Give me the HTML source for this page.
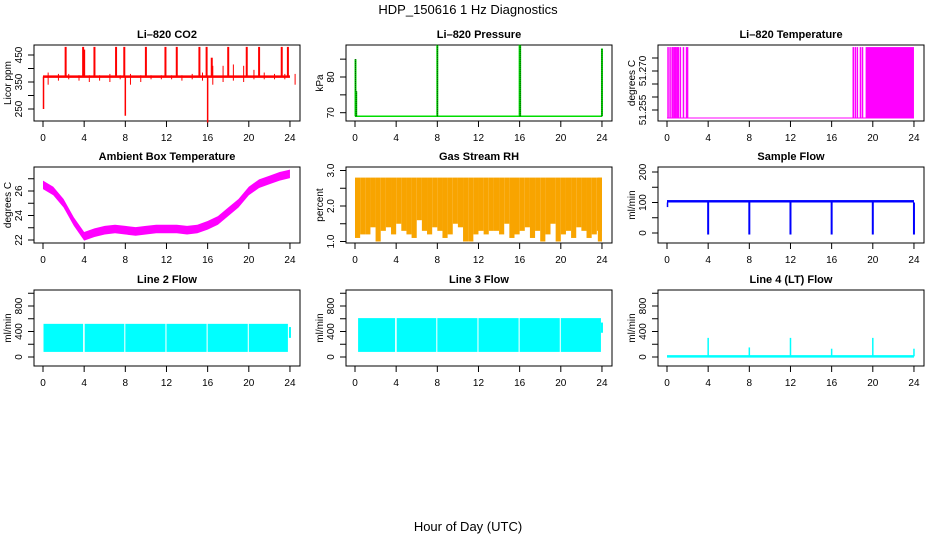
<!DOCTYPE html>
<html><head><meta charset="utf-8"><style>
body{margin:0;background:#fff}
svg text{font-family:"Liberation Sans",sans-serif;fill:#000}
.t{font-size:11px;font-weight:bold}
.k{font-size:10px}
</style></head><body>
<svg id="c" width="936" height="540" viewBox="0 0 936 540" xmlns="http://www.w3.org/2000/svg">
<text x="468" y="14" text-anchor="middle" font-size="13">HDP_150616  1 Hz Diagnostics</text>
<text x="468" y="531" text-anchor="middle" font-size="13">Hour of Day (UTC)</text>
</svg>
<script>
const xTicks=[0,4,8,12,16,20,24];
// CO2
const co2Lo=[340,355,360,355,350,355,350,360,340,350,360,360,360,355,360,355,340,350,355,350,360,360,360,360,340];
const co2Hi=[385,380,380,375,375,375,380,375,380,375,375,375,375,375,380,385,410,410,415,410,395,385,380,380,380];
const co2Base=370;
const co2SpikeH=[2.2,3.9,4.0,5.0,7.1,7.9,10.0,11.9,13.0,15.2,15.9,16.4,18.0,19.8,21.0,23.2,23.8];
const co2SpikeV=[480,480,470,480,480,480,480,480,480,480,480,440,480,480,480,480,480];
const co2DipH=[0.05,8.0,16.0];
const co2DipV=[250,225,200];
// Pressure
const presBase=69;
const presSpikeH=[0.05,0.12,8.0,16.0,16.05,24.0];
const presSpikeV=[85,76,89,89,89,88];
// Li-820 temperature
const ltLow=51.2519, ltHigh=51.2792;
const ltLineH=[0.1,0.3,0.5,0.6,0.75,0.85,1.0,1.1,1.3,1.6,1.9,2.0,18.1,18.3,18.5,18.8,19.0];
const ltFill=[19.3,24.0];
// Ambient
const ambV=[26.5,26.0,25.0,23.5,22.3,22.6,22.8,22.9,22.8,22.7,22.8,22.9,22.9,22.9,22.8,22.9,23.2,23.6,24.3,25.0,26.0,26.6,26.9,27.2,27.4];
// RH
const rhTop=2.8;
const rhBot=[1.1,1.2,1.2,1.4,1.0,1.3,1.4,1.2,1.5,1.3,1.2,1.1,1.6,1.3,1.2,1.4,1.3,1.1,1.2,1.5,1.4,1.0,1.0,1.2,1.3,1.2,1.3,1.3,1.2,1.5,1.1,1.2,1.3,1.4,1.1,1.3,1.0,1.2,1.5,1.0,1.2,1.3,1.1,1.4,1.3,1.1,1.2,1.3,1.0];
// Sample flow
const sfLo=100, sfHi=108, sfStart=85;
const sfDipH=[4,8,12,16,20,24];
const sfDipV=[-5,-5,-5,-5,-5,-5];
// Line 2/3/4
const l2Start=[0.05,4.05,8.0,12.0,16.0,20.0], l2End=[3.9,7.9,11.9,15.9,19.9,23.8];
const l2Lo=80, l2Hi=520, l2Tail=[300,470];
const l3Start=[0.3,4.05,8.0,12.0,16.0,20.0], l3End=[3.9,7.9,11.9,15.9,19.9,23.9];
const l3Lo=80, l3Hi=610, l3Tail=[380,540];
const l4Base=10;
const l4SpikeH=[4,8,12,16,20,24];
const l4SpikeV=[300,150,300,130,300,130];

const svg=document.getElementById('c');
const NS='http://www.w3.org/2000/svg';
function mk(tag,at,name,parent){const e=document.createElementNS(NS,tag);for(const k in at)e.setAttribute(k,at[k]);


(parent||svg).appendChild(e);return e;}
const colL=[34,346,658], rowT=[45,167,290], rowB=[121,243,366];
function panel(c,r,title,ylab,ticks,labels,ymap,name){
  const g=mk('g',{},name+'-panel');
  const L=colL[c],R=L+266,T=rowT[r],B=rowB[r];
  const X=h=>L+9+h*10.29;
  mk('rect',{x:L,y:T,width:R-L,height:B-T,fill:'none',stroke:'#000','stroke-width':1},name+'-frame',g);
  const t=mk('text',{x:(L+R)/2,y:T-7,'text-anchor':'middle',class:'t'},name+'-title',g);t.textContent=title;
  mk('line',{x1:X(0),x2:X(24),y1:B,y2:B,stroke:'#000'},name+'-x-axis',g);
  xTicks.forEach(h=>{mk('line',{x1:X(h),x2:X(h),y1:B,y2:B+6,stroke:'#000'},name+'-x-tick',g);
    const e=mk('text',{x:X(h),y:B+20,'text-anchor':'middle',class:'k'},name+'-x-tick-label',g);e.textContent=h;});
  ticks.forEach(v=>mk('line',{x1:L-6,x2:L,y1:ymap(v),y2:ymap(v),stroke:'#000'},name+'-y-tick',g));
  labels.forEach(v=>{const y=ymap(v);const e=mk('text',{x:L-12,y:y,'text-anchor':'middle',class:'k',transform:`rotate(-90 ${L-12} ${y})`},name+'-y-tick-label',g);e.textContent=v;});
  const yl=mk('text',{x:L-23,y:(T+B)/2,'text-anchor':'middle',class:'k',transform:`rotate(-90 ${L-23} ${(T+B)/2})`},name+'-y-axis-title',g);yl.textContent=ylab;
  const d=mk('g',{},name+'-series',g);
  return {X,d,L,R,T,B};
}
function vl(p,h,a,b,col,w,nm){mk('line',{x1:p.X(h),x2:p.X(h),y1:a,y2:b,stroke:col,'stroke-width':w||1},nm,p.d);}
function rc(p,h1,h2,a,b,col,nm){mk('rect',{x:p.X(h1),y:Math.min(a,b),width:p.X(h2)-p.X(h1),height:Math.abs(b-a),fill:col},nm,p.d);}

// CO2
{const Y=v=>55+(450-v)*0.27;const p=panel(0,0,'Li\u2013820 CO2','Licor ppm',[250,300,350,400,450],[250,350,450],Y,'co2');
 co2Lo.forEach((lo,i)=>vl(p,i+0.5,Y(lo),Y(co2Hi[i]),'#f00',1,'co2-noise'));
 mk('line',{x1:p.X(0),x2:p.X(24),y1:Y(co2Base),y2:Y(co2Base),stroke:'#f00','stroke-width':2.5},'co2-line',p.d);
 co2SpikeH.forEach((h,i)=>vl(p,h,Y(co2Base),Y(co2SpikeV[i]),'#f00',2,'co2-spike'));
 co2DipH.forEach((h,i)=>vl(p,h,Y(co2Base),Y(co2DipV[i]),'#f00',1.5,'co2-dip'));}
// Pressure
{const Y=v=>77+(80-v)*3.57;const p=panel(1,0,'Li\u2013820 Pressure','kPa',[70,75,80,85],[70,80],Y,'pressure');
 mk('line',{x1:p.X(0),x2:p.X(24),y1:Y(presBase),y2:Y(presBase),stroke:'#0d0','stroke-width':1.5},'pressure-line',p.d);
 presSpikeH.forEach((h,i)=>{vl(p,h,Y(presBase),Y(presSpikeV[i]),'#0d0',2,'pressure-spike');mk('line',{x1:p.X(h),x2:p.X(h),y1:Y(presBase),y2:Y(presSpikeV[i]),stroke:'#000','stroke-width':0.8,'stroke-dasharray':'1 1'},'pressure-spike-dots',p.d);});}
// Li temp
{const Y=v=>71+(51.270-v)*2600;const p=panel(2,0,'Li\u2013820 Temperature','degrees C',[51.255,51.26,51.265,51.27,51.275],['51.255','51.270'],Y,'li-temp');
 mk('line',{x1:p.X(0),x2:p.X(24),y1:Y(ltLow),y2:Y(ltLow),stroke:'#f0f','stroke-width':1},'li-temp-line',p.d);
 ltLineH.forEach(h=>vl(p,h,Y(ltLow),Y(ltHigh),'#f0f',1.5,'li-temp-jump'));
 rc(p,ltFill[0],ltFill[1],Y(ltLow),Y(ltHigh),'#f0f','li-temp-dense');}
// Ambient
{const Y=v=>191+(26-v)*12.25;const p=panel(0,1,'Ambient Box Temperature','degrees C',[22,23,24,25,26,27],[22,24,26],Y,'ambient');
 const up=ambV.map((v,i)=>p.X(i)+','+Y(v+0.35)).join(' ');const dn=ambV.map((v,i)=>p.X(i)+','+Y(v-0.35)).reverse().join(' ');
 mk('polygon',{points:up+' '+dn,fill:'#f0f'},'ambient-band',p.d);}
// RH
{const Y=v=>206+(2-v)*35.5;const p=panel(1,1,'Gas Stream RH','percent',[1,1.5,2,2.5,3],['1.0','2.0','3.0'],Y,'rh');
 rhBot.forEach((b,i)=>{const h=Math.min(i*0.5,23.6);rc(p,h,Math.min(h+0.5,24),Y(rhTop),Y(b),'#f8a400','rh-bin');});}
// Sample flow
{const Y=v=>233-v*0.305;const p=panel(2,1,'Sample Flow','ml/min',[0,50,100,150,200],[0,100,200],Y,'sample-flow');
 rc(p,0,24,Y(sfLo),Y(sfHi),'#00f','sample-flow-band');vl(p,0.05,Y(sfStart),Y(sfLo),'#00f',1.5,'sample-flow-start');
 sfDipH.forEach((h,i)=>vl(p,h,Y(sfLo),Y(sfDipV[i]),'#00f',2,'sample-flow-dip'));}
// Line flows
const FY=v=>357-v*0.06375;
{const p=panel(0,2,'Line 2 Flow','ml/min',[0,200,400,600,800,1000],[0,400,800],FY,'line2');
 l2Start.forEach((s,i)=>rc(p,s,l2End[i],FY(l2Lo),FY(l2Hi),'#0ff','line2-block'));vl(p,24,FY(l2Tail[0]),FY(l2Tail[1]),'#0ff',2,'line2-tail');}
{const p=panel(1,2,'Line 3 Flow','ml/min',[0,200,400,600,800,1000],[0,400,800],FY,'line3');
 l3Start.forEach((s,i)=>rc(p,s,l3End[i],FY(l3Lo),FY(l3Hi),'#0ff','line3-block'));vl(p,24,FY(l3Tail[0]),FY(l3Tail[1]),'#0ff',2,'line3-tail');}
{const p=panel(2,2,'Line 4 (LT) Flow','ml/min',[0,200,400,600,800,1000],[0,400,800],FY,'line4');
 mk('line',{x1:p.X(0),x2:p.X(24),y1:FY(l4Base),y2:FY(l4Base),stroke:'#0ff','stroke-width':2.5},'line4-base',p.d);
 l4SpikeH.forEach((h,i)=>vl(p,h,FY(l4Base),FY(l4SpikeV[i]),'#0ff',1.5,'line4-spike'));}
</script>
</body></html>
